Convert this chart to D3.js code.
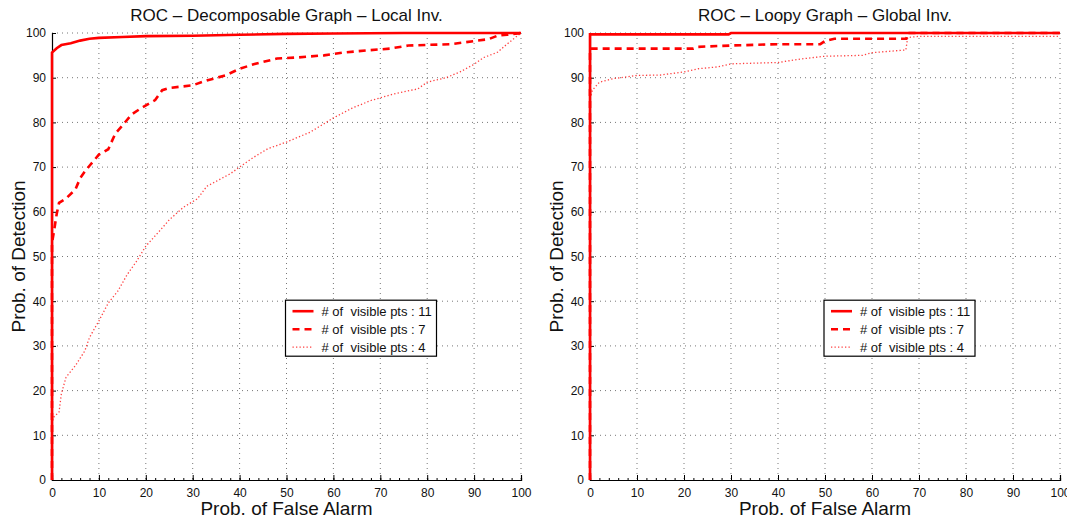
<!doctype html>
<html>
<head>
  <meta charset="utf-8">
  <title>ROC curves</title>
  <style>
    html, body { margin: 0; padding: 0; background: #fff; }
    svg { display: block; }
    text { font-family: "Liberation Sans Narrow", "Liberation Sans", Arial, sans-serif; fill: #111; }
  </style>
</head>
<body>
  <svg id="chart" width="1067" height="521"></svg>

  <script src="https://d3js.org/d3.v7.min.js"></script>
  <script>

    // ---- data ----
    const xTicks = [0, 10, 20, 30, 40, 50, 60, 70, 80, 90, 100];
    const yTicks = [0, 10, 20, 30, 40, 50, 60, 70, 80, 90, 100];
    const legendLabels = ["# of  visible pts : 11", "# of  visible pts : 7", "# of  visible pts : 4"];
    const titles = ["ROC \u2013 Decomposable Graph \u2013 Local Inv.", "ROC \u2013 Loopy Graph \u2013 Global Inv."];

    // left panel: decomposable graph, local inv.
    const localPts11 = [[0,0],[0,95.6],[1,96.6],[2,97.3],[4,97.7],[6,98.3],[8,98.7],[10,98.9],[15,99.1],[20,99.3],[30,99.4],[40,99.6],[50,99.8],[60,99.9],[75,100],[100,100]];
    const localPts7 = [[0,0],[0,53],[0.4,55.5],[1,59.5],[1.5,62],[3,63],[5,65],[6,67.5],[7,69],[8,70.3],[10,72.8],[12,74],[13.5,77.5],[15,79.3],[17,81.8],[19,83.2],[22,85],[23.5,87.2],[25,87.7],[30,88.3],[33,89.4],[37,90.5],[40,92],[43,93],[48,94.3],[52,94.5],[58,95],[62,95.6],[67,96.1],[72,96.5],[76,97.2],[85,97.5],[90,98.2],[93,98.6],[95,99.4],[97,99.6],[100,100]];
    const localPts4 = [[0,0],[0,12.5],[0.3,14],[1.5,15.2],[2,19.3],[3,23],[5,25.6],[7,28.9],[8,31.9],[10,35.6],[12,39.6],[14,42.2],[16,45.9],[18,48.9],[20,52.3],[23,55.8],[25,58.2],[28,61],[31,62.9],[33,65.7],[38,68.5],[40,70],[43,72.2],[46,74.1],[50,75.6],[55,77.8],[58,79.7],[60,81],[64,83.2],[68,84.9],[73,86.4],[78,87.5],[80,89],[84,90],[87,91.3],[90,93],[92,94.5],[95,95.7],[97,97.5],[100,100]];

    // right panel: loopy graph, global inv.
    const globalPts11 = [[0,0],[0,99.7],[29.5,99.7],[30,100],[100,100]];
    const globalPts7 = [[0,0],[0,96.5],[22,96.5],[23,96.9],[30,97.2],[40,97.5],[49,97.5],[50,98.2],[52,98.7],[67.3,98.7],[67.6,100],[100,100]];
    const globalPts4 = [[0,0],[0,85.5],[0.5,87.2],[2,89],[5,89.8],[10,90.5],[15,90.6],[20,91.3],[23,92],[27,92.4],[30,93.1],[40,93.4],[45,94.2],[50,94.8],[58,95],[60,95.6],[66,96.1],[67.2,96.2],[67.6,99],[70,99.25],[100,99.25]];

    const panels = [
      { left: 52, right: 521, title: titles[0], series: [localPts11, localPts7, localPts4] },
      { left: 590, right: 1060, title: titles[1], series: [globalPts11, globalPts7, globalPts4] }
    ];
    const plotTop = 33, plotBottom = 480;

    const styles = [
      { width: 2.6, dash: null, opacity: 1 },
      { width: 2.6, dash: "7,5", opacity: 1 },
      { width: 1.3, dash: "1.3,2.2", opacity: 0.75 }
    ];

    const svg = d3.select("#chart");

    panels.forEach(function(p) {
      const x = d3.scaleLinear().domain([0, 100]).range([p.left, p.right]);
      const y = d3.scaleLinear().domain([0, 100]).range([plotBottom, plotTop]);
      const g = svg.append("g");

      // dotted grid
      g.selectAll(".vgrid").data(xTicks.slice(1)).join("line")
          .attr("x1", d => x(d)).attr("x2", d => x(d))
          .attr("y1", plotTop).attr("y2", plotBottom)
          .style("stroke", "#777").style("stroke-width", 1)
          .style("stroke-dasharray", "1,4");
      g.selectAll(".hgrid").data(yTicks.slice(1)).join("line")
          .attr("x1", p.left).attr("x2", p.right)
          .attr("y1", d => y(d)).attr("y2", d => y(d))
          .style("stroke", "#777").style("stroke-width", 1)
          .style("stroke-dasharray", "1,4");

      // axes
      const xAxis = d3.axisBottom(x).tickValues(xTicks).tickSize(-5).tickPadding(8);
      const xMinor = d3.axisBottom(x).tickValues(d3.range(0, 101, 2)).tickSize(-2).tickFormat("");
      const yAxis = d3.axisLeft(y).tickValues(yTicks).tickSize(-4).tickPadding(6);

      const gx2 = g.append("g").attr("transform", "translate(0," + plotBottom + ")").call(xMinor);
      const gx = g.append("g").attr("transform", "translate(0," + plotBottom + ")").call(xAxis);
      const gy = g.append("g").attr("transform", "translate(" + p.left + ",0)").call(yAxis);
      [gx, gx2, gy].forEach(function(a) {
        a.select(".domain").style("stroke", "#000").style("stroke-width", 1.2);
        a.selectAll(".tick line").style("stroke", "#000");
        a.selectAll(".tick text").style("font-size", "12px").style("fill", "#111")
          .style("font-family", "'Liberation Sans Narrow', 'Liberation Sans', Arial, sans-serif");
      });

      // curves
      const line = d3.line().x(d => x(d[0])).y(d => y(d[1]));
      p.series.forEach(function(s, i) {
        g.append("path")
            .datum(s)
            .attr("d", line)
            .style("fill", "none")
            .style("stroke", "#ff0000")
            .style("stroke-width", styles[i].width)
            .style("stroke-opacity", styles[i].opacity)
            .style("stroke-dasharray", styles[i].dash);
      });

      // title and labels
      g.append("text")
          .attr("x", (p.left + p.right) / 2).attr("y", 21)
          .attr("text-anchor", "middle")
          .style("font-size", "17px")
          .text(p.title);
      g.append("text")
          .attr("x", (p.left + p.right) / 2).attr("y", 515)
          .attr("text-anchor", "middle")
          .style("font-size", "19px")
          .text("Prob. of False Alarm");
      g.append("text")
          .attr("transform", "translate(" + (p.left - 27) + "," + ((plotTop + plotBottom) / 2) + ") rotate(-90)")
          .attr("text-anchor", "middle")
          .style("font-size", "19px")
          .text("Prob. of Detection");

      // legend
      const lx = x(50) - 1, ly = y(40) - 1;
      const lg = g.append("g").attr("transform", "translate(" + lx + "," + ly + ")");
      lg.append("rect")
          .attr("width", 151).attr("height", 56)
          .style("fill", "#fff").style("stroke", "#000").style("stroke-width", 1.2);
      legendLabels.forEach(function(lbl, i) {
        const yy = 11 + i * 18;
        lg.append("line")
            .attr("x1", 7).attr("x2", 28).attr("y1", yy).attr("y2", yy)
            .style("stroke", "#ff0000")
            .style("stroke-width", styles[i].width)
            .style("stroke-opacity", styles[i].opacity)
            .style("stroke-dasharray", styles[i].dash);
        lg.append("text")
            .attr("x", 36).attr("y", yy + 4.5)
            .style("font-size", "13px")
            .style("white-space", "pre")
            .text(lbl);
      });
    });
  </script>
</body>
</html>
